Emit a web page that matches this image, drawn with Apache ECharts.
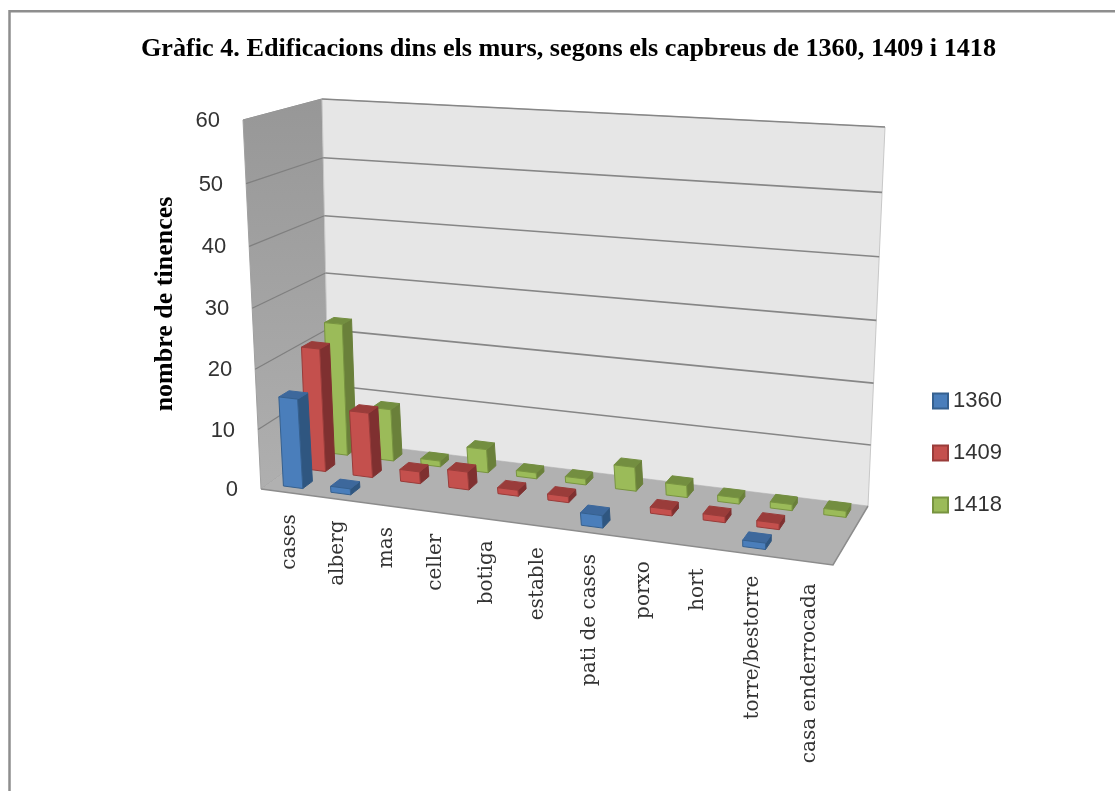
<!DOCTYPE html>
<html>
<head>
<meta charset="utf-8">
<style>html,body{margin:0;padding:0;background:#fff}#c{width:1115px;height:791px}</style>
<script src="https://cdn.jsdelivr.net/npm/echarts@6/dist/echarts.min.js"></script>
</head>
<body>
<div id="c"></div>
<script>
const categories = ['cases','alberg','mas','celler','botiga','estable','pati de cases','porxo','hort','torre/bestorre','casa enderrocada'];
const values1360 = [15,1,0,0,0,0,2,0,0,1,0];
const values1409 = [21,11,2,3,1,1,0,1,1,1,0];
const values1418 = [23,9,1,4,1,1,4,2,1,1,1];
const yTicks = [0,10,20,30,40,50,60];
const seriesNames = ['1360','1409','1418'];
const titleText = 'Gràfic 4. Edificacions dins els murs, segons els capbreus de 1360, 1409 i 1418';
const yAxisName = 'nombre de tinences';

// hidden value scale frame
const G = {left:240, top:120, width:620, height:368};

// perspective box: floor corners and ceiling corners
const floor = [[261,489],[833,565],[868,506],[329,440]];
const ceiling = [[243,120],[855,160],[885,127],[322,99]];
const ceilingWeight = 0.96;

function squareToQuad(q){
  const [x0,y0]=q[0],[x1,y1]=q[1],[x2,y2]=q[2],[x3,y3]=q[3];
  const dx1=x1-x2,dx2=x3-x2,sx=x0-x1+x2-x3,dy1=y1-y2,dy2=y3-y2,sy=y0-y1+y2-y3;
  const den=dx1*dy2-dx2*dy1;
  const g=(sx*dy2-dx2*sy)/den,h=(dx1*sy-sx*dy1)/den;
  return {a:x1-x0+g*x1,b:x3-x0+h*x3,c:x0,d:y1-y0+g*y1,e:y3-y0+h*y3,f:y0,g,h};
}
const H0=squareToQuad(floor),H1=squareToQuad(ceiling);
function hom(H,u,d){const w=H.g*u+H.h*d+1;return [(H.a*u+H.b*d+H.c)/w,(H.d*u+H.e*d+H.f)/w];}
function project(u,d,h){
  const A=hom(H0,u,d),B=hom(H1,u,d),s=ceilingWeight*h,t=s/((1-h)+s);
  return [A[0]+(B[0]-A[0])*t,A[1]+(B[1]-A[1])*t];
}
function hOf(api,v){return 1-(api.coord([0,v])[1]-G.top)/G.height;}
function uOf(api,i){return (api.coord([i,0])[0]-G.left)/G.width;}
function poly(pts,fill,stroke,lw){
  return {type:'polygon',shape:{points:pts},style:{fill:fill,stroke:stroke||null,lineWidth:lw||0}};
}
const rows={ '1360':[0.097,0.236], '1409':[0.43,0.57], '1418':[0.764,0.903] };
const palette={
  '1360':{front:'#4a7ebb',side:'#2f5680',top:'#3d689c',edge:'#35608f'},
  '1409':{front:'#c4504d',side:'#7f3030',top:'#9a3c3a',edge:'#9a3c3a'},
  '1418':{front:'#9bbb59',side:'#6a803a',top:'#738e40',edge:'#789440'}
};
function barRender(name){
  return function(params,api){
    const i=api.value(0),v=api.value(1);
    if(!v) return {type:'group',children:[]};
    const uc=uOf(api,i)+0.003,cw=api.size([1,0])[0]/G.width;
    const u0=uc-0.205*cw,u1=uc+0.205*cw;
    const [d0,d1]=rows[name];
    const h=hOf(api,v),c=palette[name];
    return {type:'group',children:[
      poly([project(u1,d0,0),project(u1,d1,0),project(u1,d1,h),project(u1,d0,h)],c.side,c.side,1),
      poly([project(u0,d0,h),project(u1,d0,h),project(u1,d1,h),project(u0,d1,h)],c.top,c.top,1),
      poly([project(u0,d0,0),project(u1,d0,0),project(u1,d0,h),project(u0,d0,h)],c.front,c.edge,1)
    ]};
  };
}
function barSeries(name,vals){
  return {name:name,type:'custom',coordinateSystem:'cartesian2d',clip:false,silent:true,z:5,
    itemStyle:{color:palette[name].front},
    encode:{x:0,y:1},data:vals.map((v,i)=>[i,v]),renderItem:barRender(name)};
}
const wallSeries={name:'walls',type:'custom',coordinateSystem:'cartesian2d',clip:false,silent:true,z:2,
  data:[[0,0]],encode:{x:0,y:1},
  renderItem:function(){
    return {type:'group',children:[
      poly([project(0,0,0),project(0,1,0),project(0,1,1),project(0,0,1)],
        {type:'linear',x:0,y:0,x2:0,y2:1,colorStops:[{offset:0,color:'#979797'},{offset:1,color:'#afafaf'}]},'#a0a0a0',1),
      poly([project(0,1,0),project(1,1,0),project(1,1,1),project(0,1,1)],'#e6e6e6','#c8c8c8',1),
      poly([project(0,0,0),project(1,0,0),project(1,1,0),project(0,1,0)],'#b1b1b1',null,0),
      {type:'polyline',shape:{points:[project(0,0,0),project(1,0,0),project(1,1,0)]},style:{fill:null,stroke:'#8c8c8c',lineWidth:1.5}}
    ]};
  }};
const gridSeries={name:'gridlines',type:'custom',coordinateSystem:'cartesian2d',clip:false,silent:true,z:3,
  data:yTicks.map(t=>[0,t]),encode:{x:0,y:1},
  renderItem:function(p,api){
    const t=api.value(1);
    if(t===0) return {type:'group',children:[]};
    const h=hOf(api,t);
    const topTick=t===yTicks[yTicks.length-1];
    return {type:'group',children:[
      {type:'polyline',shape:{points:[project(0,0,h),project(0,1,h)]},style:{fill:null,stroke:topTick?'#959595':'#7f7f7f',lineWidth:1.2}},
      {type:'polyline',shape:{points:[project(0,1,h),project(1,1,h)]},style:{fill:null,stroke:'#868686',lineWidth:1.6}}
    ]};
  }};
const tickLabelSeries={name:'ticks',type:'custom',coordinateSystem:'cartesian2d',clip:false,silent:true,z:6,
  data:yTicks.map(t=>[0,t]),encode:{x:0,y:1},
  renderItem:function(p,api){
    const t=api.value(1),q=project(0,0,hOf(api,t));
    return {type:'text',x:q[0]-23,y:q[1]+1,style:{text:String(t),fill:'#333',fontFamily:'Liberation Sans',fontSize:22,align:'right',verticalAlign:'middle'}};
  }};
const catLabelSeries={name:'cats',type:'custom',coordinateSystem:'cartesian2d',clip:false,silent:true,z:6,
  data:categories.map((c,i)=>[i,0]),encode:{x:0,y:1},
  renderItem:function(p,api){
    const i=api.value(0),q=project(uOf(api,i),0,0);
    return {type:'text',x:q[0]+5,y:q[1]+22,rotation:Math.PI/2,style:{text:categories[i],fill:'#333',fontFamily:'DejaVu Serif',fontSize:20,align:'right',verticalAlign:'middle'}};
  }};

const chart=echarts.init(document.getElementById('c'),null,{renderer:'canvas'});
chart.setOption({
  animation:false,
  backgroundColor:'#fff',
  title:{text:titleText,left:141,top:36,padding:0,
    textStyle:{fontFamily:'Liberation Serif',fontWeight:'bold',fontSize:26.2,color:'#000'}},
  graphic:[{type:'rect',z:-10,silent:true,shape:{x:9.5,y:11.3,width:1300,height:1000},style:{fill:'#fff',stroke:'#8e8e8e',lineWidth:2.5}}],
  legend:{orient:'vertical',left:927,top:385,itemWidth:15,itemHeight:15,itemGap:30,selectedMode:false,
    textStyle:{fontFamily:'Liberation Sans',fontSize:22,color:'#333'},
    data:seriesNames.map(n=>({name:n,icon:'rect',itemStyle:{color:palette[n].front,borderColor:palette[n].edge,borderWidth:2}}))},
  grid:{left:G.left,top:G.top,width:G.width,height:G.height},
  xAxis:{type:'category',data:categories,show:false},
  yAxis:{type:'value',min:0,max:60,interval:10,name:yAxisName,nameLocation:'middle',nameGap:62,
    nameTextStyle:{fontFamily:'Liberation Serif',fontWeight:'bold',fontSize:26,color:'#000'},
    axisLine:{show:false},axisTick:{show:false},axisLabel:{show:false},splitLine:{show:false}},
  series:[wallSeries,gridSeries,barSeries('1418',values1418),barSeries('1409',values1409),barSeries('1360',values1360),tickLabelSeries,catLabelSeries]
});
</script>
</body>
</html>
